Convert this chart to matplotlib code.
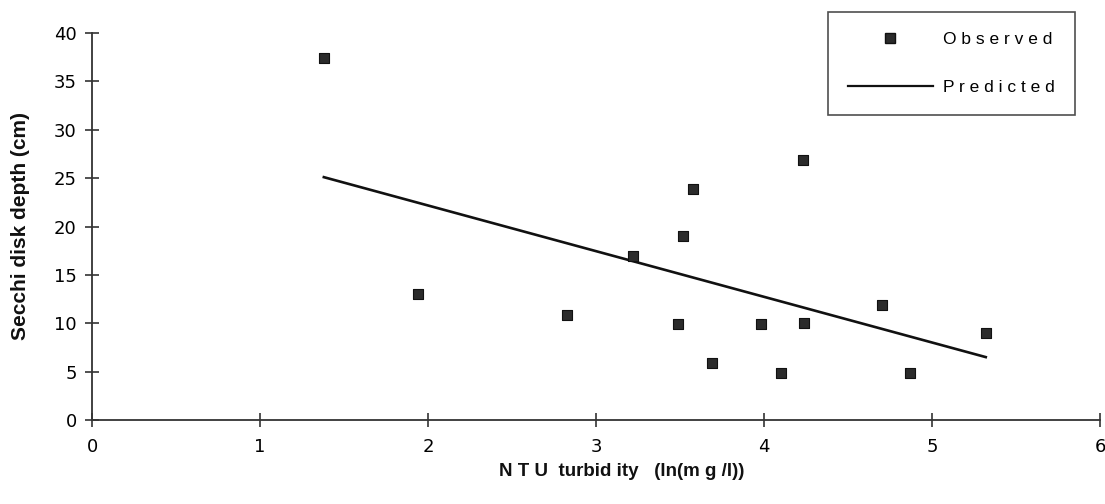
import matplotlib
matplotlib.use("Agg")
import matplotlib.pyplot as plt
from matplotlib.lines import Line2D

# Data
obs_x = [1.38, 1.94, 2.83, 3.22, 3.49, 3.52, 3.58, 3.69, 3.98, 4.10, 4.24, 4.23, 4.70, 4.87, 5.32]
obs_y = [37.4, 13.0, 10.9, 16.9, 9.9, 19.0, 23.9, 5.9, 9.9, 4.9, 10.0, 26.9, 11.9, 4.9, 9.0]
pred_x = [1.38, 5.32]
pred_y = [25.1, 6.5]
x_ticks = [0, 1, 2, 3, 4, 5, 6]
y_ticks = [0, 5, 10, 15, 20, 25, 30, 35, 40]

fig = plt.figure(figsize=(11.05, 5.04), dpi=100)
ax = fig.add_axes([92/1105, (504-420)/504, (1100-92)/1105, (420-33)/504])

axis_col = "#333333"
ax.plot(pred_x, pred_y, color="#111111", lw=1.9, label="Predicted", zorder=3)
ax.scatter(obs_x, obs_y, marker="s", s=42, facecolor="#2b2b2b", edgecolor="#111111",
           linewidth=0.8, label="Observed", zorder=4)

ax.set_xlim(0, 6)
ax.set_ylim(0, 40)
ax.set_xticks(x_ticks)
ax.set_yticks(y_ticks)
for s in ["top", "right"]:
    ax.spines[s].set_visible(False)
for s in ["left", "bottom"]:
    ax.spines[s].set_color(axis_col)
    ax.spines[s].set_linewidth(1.3)

ax.tick_params(axis="both", direction="inout", length=10, width=1.2, color=axis_col,
               labelsize=13, labelcolor="#000000")
ax.tick_params(axis="y", pad=6)
ax.tick_params(axis="x", pad=8)
for lab in ax.get_xticklabels() + ax.get_yticklabels():
    lab.set_fontfamily("DejaVu Sans")

ax.set_ylabel("Secchi disk depth (cm)", fontsize=15, fontweight="bold",
              fontfamily="Liberation Sans", color="#111111")
ax.yaxis.set_label_coords(-0.062, 0.5)
ax.set_xlabel("N T U  turbid ity   (ln(m g /l))", fontsize=13.5, fontweight="bold",
              fontfamily="Liberation Sans", color="#111111")
ax.xaxis.set_label_coords((622-92)/1008, -0.11)

handles = [
    Line2D([], [], marker="s", linestyle="none", markersize=7, markerfacecolor="#2b2b2b",
           markeredgecolor="#111111"),
    Line2D([], [], color="#111111", lw=1.6),
]
leg = fig.legend(handles, ["O b s e r v e d", "P r e d i c t e d"], loc="upper right",
                 bbox_to_anchor=(1075/1105, 1 - 12/504), frameon=True, fancybox=False,
                 edgecolor="#222222", handlelength=4.9, handletextpad=0.6,
                 labelspacing=1.9, borderpad=1.15, borderaxespad=0,
                 prop={"family": "Liberation Sans", "size": 12.5})
leg.get_frame().set_linewidth(1.2)

fig.savefig("out.png", dpi=100, facecolor="white")
